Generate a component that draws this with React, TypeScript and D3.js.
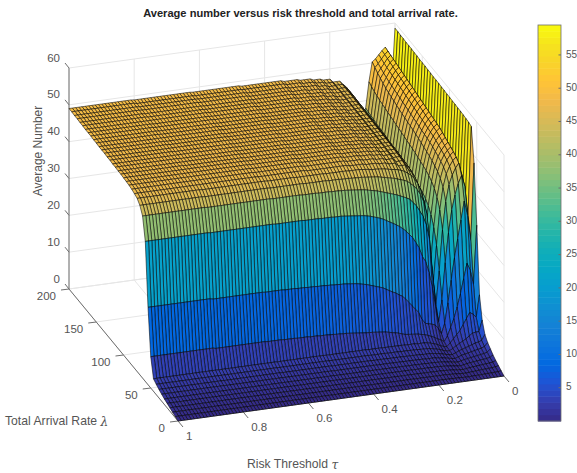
import React from 'react';
import * as d3 from 'd3';

// grid of the surface
const lambdaGrid = d3.range(0, 205, 5);
const tauGrid = d3.range(0, 101).map(i => i / 100);

// lower tau bound of each profile below
const profileTau = [0, .01, .02, .03, .04, .05, .06, .07, .08, .09, .10, .11, .12, .13, .14, .15, .16, .17, .20, .23, .26, .30, .35, .48, .63, .81];

// average number read per lambda step (0..200), one list per tau band
const zProfiles = [
  [0,.5,1,1.5,2.1,2.9,3.7,5,8,14,32,48,57,57.3,57.4,57.5,57.6,57.6,57.7,57.7,57.8,57.8,57.9,57.9,58,58,58,58.1,58.1,58.2,58.2,58.2,58.3,58.3,58.4,58.4,58.4,58.5,58.5,58.6,58.6],
  [0,.4,.8,1.2,1.6,2.1,2.7,3.5,5,8,16,27,33,36,37,37.5,38,38.4,38.8,39,39.2,39.5,39.7,40,40.2,40.4,40.6,40.8,41,41.2,41.4,41.6,41.8,42,42.2,42.4,42.6,42.8,43,43.2,43.4],
  [0,.35,.7,1.05,1.4,1.85,2.4,3.2,5,9,20,34,41,43,44,44.6,45,45.3,45.6,45.9,46.1,46.3,46.5,46.7,46.9,47.1,47.3,47.5,47.7,47.9,48.1,48.3,48.5,48.7,48.9,49.1,49.3,49.5,49.7,49.9,50],
  [0,.3,.65,1,1.3,1.7,2.2,3,4.8,9.5,22,38,44,46.5,47.3,47.8,48.2,48.6,49,49.4,49.8,50,50.2,50.4,50.6,50.8,51,51.2,51.4,51.6,51.8,52,52.2,52.4,52.6,52.8,53,53.2,53.4,53.6,53.8],
  [0,.28,.6,.9,1.2,1.55,2,2.7,4.2,8,18,33,42,45.3,46.4,47,47.4,47.8,48.2,48.6,49,49.2,49.4,49.6,49.8,50,50.2,50.4,50.6,50.8,51,51.2,51.4,51.6,51.8,52,52.2,52.4,52.6,52.8,53],
  [0,.25,.55,.8,1.1,1.4,1.8,2.4,3.5,6.5,14,28,39,43.5,45,45.8,46.3,46.7,47.1,47.5,47.8,48,48.2,48.4,48.6,48.8,49,49.2,49.4,49.6,49.8,50,50.2,50.4,50.6,50.8,51,51.2,51.4,51.7,52],
  [0,.22,.5,.72,1,1.25,1.6,2.1,3,5,10.5,23,35,41,43,44,44.6,45.1,45.5,45.9,46.2,46.4,46.6,46.8,47,47.2,47.4,47.6,47.8,48,48.2,48.4,48.6,48.8,49,49.2,49.5,49.8,50.2,50.6,51],
  [0,.2,.42,.64,.88,1.1,1.4,1.8,2.5,4,7.5,17,29,36.5,39.5,41,42,42.6,43.1,43.5,43.8,44.1,44.4,44.7,45,45.2,45.4,45.6,45.8,46,46.2,46.5,46.8,47,47.3,47.6,48,48.5,49,49.6,50.3],
  [0,.18,.35,.55,.75,.95,1.2,1.5,2,3,5.2,11,21,29,33.5,36,37.5,38.5,39.2,39.7,40,40.3,40.6,40.9,41.1,41.3,41.5,41.7,41.9,42.1,42.3,42.5,42.7,42.9,43.1,43.3,43.5,43.8,44.1,44.5,45],
  [0,.14,.28,.42,.56,.72,.9,1.1,1.4,2,3,5.5,11,18,24,28,30.5,32,33,33.7,34.2,34.5,34.8,35,35.2,35.4,35.6,35.8,36,36.2,36.4,36.6,36.8,37,37.1,37.2,37.3,37.5,37.6,37.8,38],
  [0,.1,.2,.3,.4,.5,.6,.75,.9,1.1,1.6,2.8,5,9,14,18,21,23,25,26,27,27.6,28,28.4,28.8,29.2,29.6,30,30.3,30.6,30.9,31.2,31.4,31.6,31.8,32,32.2,32.4,32.6,32.8,33],
  [0,.12,.24,.36,.48,.6,.72,.85,1,1.3,2.2,4.5,9.5,17,23,27,29,30,30.8,31.3,31.7,32,32.3,32.5,32.7,32.9,33,33.1,33.2,33.3,33.4,33.5,33.6,33.7,33.8,33.9,34,34.1,34.2,34.3,34.5],
  [0,.15,.3,.45,.6,.75,.9,1.05,1.25,1.6,2.6,5.5,15,27,33,35.5,36.5,37,37.2,37.4,37.5,37.6,37.7,37.8,37.9,38,38,38.1,38.1,38.2,38.2,38.3,38.3,38.4,38.4,38.5,38.5,38.6,38.6,38.7,38.7],
  [0,.18,.36,.54,.72,.9,1.08,1.3,1.6,2.1,3.1,5.8,19,31,36.5,38.5,39.3,39.7,40,40.1,40.2,40.3,40.4,40.4,40.5,40.5,40.6,40.6,40.7,40.7,40.8,40.8,40.9,40.9,41,41,41,41.1,41.1,41.1,41.2],
  [0,.2,.42,.62,.82,1.03,1.25,1.5,1.85,2.4,3.5,6,22,33.5,38.5,40.6,41.4,41.8,42,42.1,42.2,42.3,42.4,42.4,42.5,42.5,42.6,42.6,42.7,42.7,42.8,42.8,42.9,42.9,43,43,43,43.1,43.1,43.2,43.2],
  [0,.22,.46,.68,.9,1.12,1.38,1.65,2.05,2.7,3.9,6.3,23.5,35,40,42,42.8,43.2,43.4,43.5,43.6,43.7,43.8,43.8,43.9,43.9,44,44,44.1,44.1,44.2,44.2,44.3,44.3,44.4,44.4,44.4,44.5,44.5,44.5,44.5],
  [0,.24,.5,.72,.96,1.2,1.48,1.78,2.2,2.9,4.2,7.5,26,36.5,41,43,43.7,44.1,44.3,44.4,44.5,44.6,44.7,44.7,44.8,44.8,44.9,44.9,45,45,45.1,45.1,45.2,45.2,45.3,45.3,45.3,45.4,45.4,45.4,45.4],
  [0,.25,.52,.76,1,1.26,1.55,1.88,2.35,3,4.6,10.5,29,38.5,42.5,44.3,45,45.3,45.5,45.6,45.7,45.8,45.8,45.9,45.9,46,46,46,46.1,46.1,46.1,46.2,46.2,46.2,46.2,46.3,46.3,46.3,46.3,46.3,46.3],
  [0,.26,.54,.8,1.05,1.32,1.62,1.97,2.45,3.1,5,14.5,32.5,40.2,43.8,45.3,45.9,46.2,46.4,46.5,46.6,46.7,46.7,46.8,46.8,46.9,46.9,46.9,47,47,47,47,47.1,47.1,47.1,47.1,47.2,47.2,47.2,47.2,47.2],
  [0,.27,.55,.82,1.08,1.35,1.66,2.01,2.5,3.15,5.7,16,34,41,44.4,45.7,46.3,46.6,46.8,46.9,47,47,47.1,47.1,47.2,47.2,47.2,47.3,47.3,47.3,47.4,47.4,47.4,47.5,47.5,47.5,47.5,47.6,47.6,47.6,47.6],
  [0,.27,.56,.84,1.1,1.38,1.7,2.06,2.55,3.2,6.5,17.5,35.5,42,44.9,46,46.6,46.9,47.1,47.2,47.3,47.4,47.4,47.5,47.5,47.6,47.6,47.6,47.7,47.7,47.7,47.8,47.8,47.8,47.9,47.9,47.9,47.9,48,48,48],
  [0,.275,.57,.855,1.12,1.41,1.74,2.11,2.61,3.25,7,19,36.5,43,45.3,46.3,46.85,47.15,47.35,47.45,47.55,47.65,47.65,47.75,47.75,47.85,47.85,47.9,47.95,47.95,48,48.05,48.05,48.1,48.15,48.15,48.2,48.2,48.25,48.3,48.3],
  [0,.28,.58,.87,1.15,1.44,1.78,2.17,2.68,3.3,7.5,20,37.5,43.5,45.6,46.6,47.1,47.4,47.6,47.7,47.8,47.9,47.9,48,48,48.1,48.1,48.2,48.2,48.2,48.3,48.3,48.3,48.4,48.4,48.4,48.5,48.5,48.5,48.6,48.6],
  [0,.29,.59,.88,1.17,1.47,1.83,2.23,2.73,3.35,8,20.6,37.8,43.8,45.8,46.8,47.3,47.6,47.8,47.9,48,48,48.1,48.1,48.2,48.2,48.3,48.3,48.3,48.4,48.4,48.4,48.5,48.5,48.6,48.6,48.6,48.7,48.7,48.7,48.8],
  [0,.3,.6,.9,1.19,1.49,1.86,2.27,2.77,3.38,8.3,20.8,37.9,43.9,45.9,46.9,47.4,47.7,47.9,48,48.1,48.1,48.2,48.2,48.3,48.3,48.4,48.4,48.4,48.5,48.5,48.5,48.6,48.6,48.7,48.7,48.7,48.8,48.8,48.8,48.9],
  [0,.3,.6,.9,1.2,1.5,1.9,2.3,2.8,3.4,8.5,21,38,44,46,47,47.4,47.7,47.9,48,48.1,48.2,48.2,48.3,48.3,48.4,48.4,48.5,48.5,48.5,48.6,48.6,48.7,48.7,48.7,48.8,48.8,48.9,48.9,49,49],
];

// the steep rows, read column by column for tau .17 to .70
const zLam50 = [4.4,4.6,4.7,4.8,4.9,5,5.3,5.6,5.8,6,6.2,6.4,6.5,6.6,6.7,6.8,6.85,6.9,7,7.1,7.2,7.3,7.4,7.5,7.5,7.6,7.6,7.7,7.7,7.8,7.8,7.8,7.9,7.9,7.9,8,8,8,8,8.1,8.1,8.1,8.1,8.2,8.2,8.2,8.2,8.2,8.3,8.3,8.3,8.3,8.3,8.3];
const zLam55 = [9.5,10.5,11.5,12.6,13.6,14.5,15,15.6,16,16.5,17,17.5,17.8,18.1,18.4,18.7,19,19.2,19.4,19.6,19.7,19.8,19.9,20,20,20.1,20.1,20.2,20.2,20.3,20.3,20.3,20.4,20.4,20.4,20.5,20.5,20.5,20.6,20.6,20.6,20.6,20.7,20.7,20.7,20.7,20.7,20.7,20.8,20.8,20.8,20.8,20.8,20.8];
const zLam60 = [27.5,29,30,31,31.8,32.5,33.1,33.6,34.1,34.6,35.1,35.5,35.8,36.1,36.4,36.6,36.8,36.9,37,37.1,37.2,37.3,37.4,37.5,37.5,37.5,37.6,37.6,37.6,37.6,37.7,37.7,37.7,37.7,37.7,37.8,37.8,37.8,37.8,37.8,37.8,37.8,37.8,37.8,37.9,37.9,37.9,37.9,37.9,37.9,37.9,37.9,37.9,37.9];
const zLam65 = [37.5,38.5,39,39.4,39.8,40.2,40.5,40.8,41.1,41.4,41.7,42,42.2,42.4,42.6,42.8,42.9,43,43.1,43.2,43.3,43.4,43.4,43.5,43.5,43.5,43.6,43.6,43.6,43.6,43.7,43.7,43.7,43.7,43.7,43.8,43.8,43.8,43.8,43.8,43.8,43.8,43.8,43.8,43.9,43.9,43.9,43.9,43.9,43.9,43.9,43.9,43.9,43.9];
const zLam70 = [41.8,42.5,42.9,43.2,43.5,43.8,44,44.2,44.4,44.6,44.8,44.9,45,45.1,45.2,45.3,45.3,45.4,45.4,45.5,45.5,45.5,45.6,45.6,45.6,45.6,45.7,45.7,45.7,45.7,45.7,45.7,45.7,45.8,45.8,45.8,45.8,45.8,45.8,45.8,45.8,45.8,45.8,45.8,45.9,45.9,45.9,45.9,45.9,45.9,45.9,45.9,45.9,45.9];
const zLam75 = [43.7,44.3,44.7,45,45.2,45.3,45.5,45.7,45.8,45.9,46,46,46.2,46.3,46.4,46.5,46.5,46.5,46.5,46.6,46.6,46.6,46.6,46.6,46.6,46.6,46.7,46.7,46.7,46.7,46.7,46.7,46.7,46.7,46.7,46.8,46.8,46.8,46.8,46.8,46.8,46.8,46.8,46.8,46.9,46.9,46.9,46.9,46.9,46.9,46.9,46.9,46.9,46.9];
const steepRows: Record<number, number[]> = { 10: zLam50, 11: zLam55, 12: zLam60, 13: zLam65, 14: zLam70, 15: zLam75 };

const zTicks = [0, 10, 20, 30, 40, 50, 60];
const lambdaTicks = [0, 50, 100, 150, 200];
const tauTicks = [1, 0.8, 0.6, 0.4, 0.2, 0];
const colorTicks = [5, 10, 15, 20, 25, 30, 35, 40, 45, 50, 55];
const parula = ['#352A87', '#353DAD', '#2053D4', '#0268E1', '#0D75DC', '#1481D6', '#108ED2', '#079CCF', '#06A7C6', '#0FAEB9', '#25B5A9', '#42BB98', '#65BE86', '#87BF77', '#A5BE6B', '#C0BC60', '#D9BA56', '#F1B94A', '#FFC337', '#F9D32A', '#F5E41D', '#F9FB0E'];

const WIDTH = 577;
const HEIGHT = 473;
const FONT = '"Liberation Sans", Arial, sans-serif';
const AXIS = '#6e6e6e';
const TEXT = '#555';
const GRID = '#e6e6e6';

// orthographic view: each data axis adds its own pixel offset
const originX = 178;
const originY = 421;
const tauX = d3.scaleLinear([1, 0], [0, 326]);
const tauY = d3.scaleLinear([1, 0], [0, -45]);
const lamX = d3.scaleLinear([0, 200], [0, -109]);
const lamY = d3.scaleLinear([0, 200], [0, -132]);
const zY = d3.scaleLinear([0, 60], [0, -221]);

const project = (tau: number, lam: number, z: number): [number, number] => [
  originX + tauX(tau) + lamX(lam),
  originY + tauY(tau) + lamY(lam) + zY(z),
];

const color = d3.scaleSequential(d3.piecewise(d3.interpolateRgb, parula)).domain([0, 59.5]);
const barY = d3.scaleLinear([0, 59.5], [421, 25]);
const closed = d3.line().curve(d3.curveLinearClosed);

const zAt = (tau: number, j: number) => {
  const col = Math.round(tau * 100) - 17;
  if (steepRows[j] && col >= 0 && col < zLam50.length) return steepRows[j][col];
  return zProfiles[d3.bisectRight(profileTau, tau + 1e-9) - 1][j];
};

function Seg({ a, b, stroke = AXIS, w = 1 }: any) {
  return <line x1={a[0]} y1={a[1]} x2={b[0]} y2={b[1]} stroke={stroke} strokeWidth={w} />;
}

export default function App() {
  // far cells first so nearer ones paint over them
  const cells: any[] = [];
  for (let j = lambdaGrid.length - 2; j >= 0; j--) {
    for (let i = 0; i < tauGrid.length - 1; i++) {
      const t0 = tauGrid[i], t1 = tauGrid[i + 1];
      const l0 = lambdaGrid[j], l1 = lambdaGrid[j + 1];
      cells.push({
        key: j + '-' + i,
        d: closed([project(t0, l0, zAt(t0, j)), project(t1, l0, zAt(t1, j)), project(t1, l1, zAt(t1, j + 1)), project(t0, l1, zAt(t0, j + 1))]),
        fill: color(zAt(t0, j)),
      });
    }
  }

  return (
    <svg width={WIDTH} height={HEIGHT} style={{ position: 'absolute', left: 0, top: 0, background: '#fff' }} fontFamily={FONT}>
      {/* back walls and floor */}
      {zTicks.map(z => (
        <g key={z}>
          <Seg a={project(1, 200, z)} b={project(0, 200, z)} stroke={GRID} />
          <Seg a={project(0, 200, z)} b={project(0, 0, z)} stroke={GRID} />
        </g>
      ))}
      {tauTicks.map(t => (
        <g key={t}>
          <Seg a={project(t, 200, 0)} b={project(t, 200, 60)} stroke={GRID} />
          <Seg a={project(t, 200, 0)} b={project(t, 0, 0)} stroke={GRID} />
        </g>
      ))}
      {lambdaTicks.map(l => (
        <g key={l}>
          <Seg a={project(0, l, 0)} b={project(0, l, 60)} stroke={GRID} />
          <Seg a={project(1, l, 0)} b={project(0, l, 0)} stroke={GRID} />
        </g>
      ))}

      {/* axes */}
      <Seg a={project(1, 200, 0)} b={project(1, 200, 60)} />
      <Seg a={project(1, 200, 0)} b={project(1, 0, 0)} />
      <Seg a={project(1, 0, 0)} b={project(0, 0, 0)} />

      {zTicks.map(z => {
        const p = project(1, 200, z);
        return (
          <g key={z}>
            <Seg a={p} b={[p[0] - 4, p[1] - 5]} />
            <text x={p[0] - 9} y={p[1] - 9.5} textAnchor="end" dominantBaseline="middle" fontSize={11.5} fill={TEXT}>{z}</text>
          </g>
        );
      })}
      {lambdaTicks.map(l => {
        const p = project(1, l, 0);
        return (
          <g key={l}>
            <Seg a={p} b={[p[0] - 8, p[1] + 1]} />
            <text x={p[0] - 13} y={p[1] + 8} textAnchor="end" dominantBaseline="middle" fontSize={11.5} fill={TEXT}>{l}</text>
          </g>
        );
      })}
      {tauTicks.map(t => {
        const p = project(t, 0, 0);
        return (
          <g key={t}>
            <Seg a={p} b={[p[0] + 5, p[1] + 6]} />
            <text x={p[0] + 8} y={p[1] + 16} dominantBaseline="middle" fontSize={11.5} fill={TEXT}>{t}</text>
          </g>
        );
      })}

      {/* surface */}
      <g stroke="#000" strokeWidth={0.55} strokeLinejoin="round">
        {cells.map(c => <path key={c.key} d={c.d} fill={c.fill} />)}
      </g>

      {/* colorbar */}
      {d3.range(0, 64).map(i => {
        const v0 = (i / 64) * 59.5, v1 = ((i + 1) / 64) * 59.5;
        return <rect key={i} x={538} width={23} y={barY(v1)} height={barY(v0) - barY(v1) + 0.5} fill={color((v0 + v1) / 2)} />;
      })}
      <rect x={538} y={25} width={23} height={396} fill="none" stroke={AXIS} strokeWidth={0.8} />
      {colorTicks.map(v => (
        <g key={v}>
          <Seg a={[558.5, barY(v)]} b={[561, barY(v)]} />
          <text x={566} y={barY(v)} dominantBaseline="middle" fontSize={10} fill={TEXT}>{v}</text>
        </g>
      ))}

      {/* labels */}
      <text x={300.5} y={14} textAnchor="middle" dominantBaseline="middle" fontSize={11.1} fontWeight="bold" fill="#222">Average number versus risk threshold and total arrival rate.</text>
      <text transform="translate(39,151) rotate(-90)" textAnchor="middle" dominantBaseline="middle" fontSize={12} fill={TEXT}>Average Number</text>
      <text x={5} y={422} dominantBaseline="middle" fontSize={12.2} fill={TEXT}>Total Arrival Rate <tspan fontFamily="'DejaVu Serif', serif" fontStyle="italic">λ</tspan></text>
      <text x={247} y={465} dominantBaseline="middle" fontSize={12.2} fill={TEXT}>Risk Threshold <tspan fontFamily="'DejaVu Serif', serif" fontStyle="italic">τ</tspan></text>
    </svg>
  );
}
